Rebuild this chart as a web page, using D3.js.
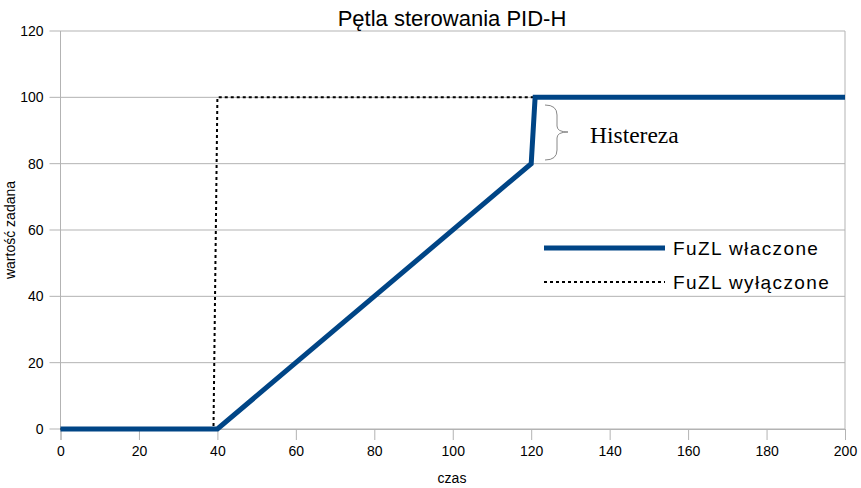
<!DOCTYPE html>
<html>
<head>
<meta charset="utf-8">
<script src="https://cdn.jsdelivr.net/npm/d3@7"></script>
<style>
  body { margin: 0; background: #fff; }
  text { font-family: "Liberation Sans", Arial, sans-serif; fill: #000; }
</style>
</head>
<body>
<div id="chart"></div>
<script>
// Chart data
var xTicks = [0, 20, 40, 60, 80, 100, 120, 140, 160, 180, 200];
var yTicks = [0, 20, 40, 60, 80, 100, 120];
var onX = [0, 40, 120, 121, 200];
var onY = [0, 0, 80, 100, 100];
var offX = [0, 39, 40, 200];
var offY = [0, 0, 100, 100];
var seriesNames = ["FuZL właczone", "FuZL wyłączone"];

var svg__Width = 861, svg__Height = 488;
var margin = { top: 31, right: 16, bottom: 59, left: 60.5 };
var chart__Width = svg__Width - margin.left - margin.right;
var chart__Height = svg__Height - margin.top - margin.bottom;

var svg = d3.select("#chart").append("svg")
  .attr("width", svg__Width)
  .attr("height", svg__Height);

var g = svg.append("g")
  .attr("transform", `translate(${margin.left}, ${margin.top})`);

var x = d3.scaleLinear().domain([0, 200]).range([0, chart__Width]);
var y = d3.scaleLinear().domain([0, 120]).range([chart__Height, 0]);

// horizontal gridlines
g.selectAll(".grid").data(yTicks).enter().append("line")
  .attr("x1", -11).attr("x2", chart__Width)
  .attr("y1", d => y(d)).attr("y2", d => y(d))
  .attr("stroke", "#b3b3b3").attr("stroke-width", 1);

// left and right borders
g.append("line").attr("x1", 0).attr("x2", 0).attr("y1", 0).attr("y2", chart__Height)
  .attr("stroke", "#b3b3b3");
g.append("line").attr("x1", chart__Width).attr("x2", chart__Width).attr("y1", 0).attr("y2", chart__Height)
  .attr("stroke", "#b3b3b3");

// x axis
var xAxis = g.append("g")
  .attr("transform", `translate(0, ${chart__Height})`)
  .call(d3.axisBottom(x).tickValues(xTicks).tickSize(11).tickPadding(6));
xAxis.select(".domain").attr("stroke", "#b3b3b3");
xAxis.selectAll(".tick line").attr("stroke", "#b3b3b3");
xAxis.selectAll("text").style("font-size", "14px").attr("fill", "#000");

// y axis labels
g.selectAll(".ylab").data(yTicks).enter().append("text")
  .attr("x", -17).attr("y", d => y(d)).attr("dy", "0.35em")
  .attr("text-anchor", "end").style("font-size", "14px")
  .text(d => d);

// series
var line = d3.line().x(d => x(d[0])).y(d => y(d[1]));
var offData = offX.map((v, i) => [v, offY[i]]);
var onData = onX.map((v, i) => [v, onY[i]]);

g.append("path").datum(offData).attr("d", line)
  .attr("fill", "none").attr("stroke", "#000").attr("stroke-width", 2)
  .attr("stroke-dasharray", "3,3");
g.append("path").datum(onData).attr("d", line)
  .attr("fill", "none").attr("stroke", "#004586").attr("stroke-width", 5)
  .attr("stroke-linejoin", "miter");

// title and axis titles
svg.append("text").attr("x", 452).attr("y", 26).attr("text-anchor", "middle")
  .style("font-size", "22px").text("Pętla sterowania PID-H");
svg.append("text").attr("x", 452).attr("y", 483).attr("text-anchor", "middle")
  .style("font-size", "14px").text("czas");
svg.append("text").attr("transform", "translate(15, 230) rotate(-90)")
  .attr("text-anchor", "middle").style("font-size", "14px").text("wartość zadana");

// legend
var legend = svg.append("g").attr("transform", "translate(544, 248)");
legend.append("line").attr("x1", 0).attr("x2", 121).attr("y1", 0).attr("y2", 0)
  .attr("stroke", "#004586").attr("stroke-width", 5);
legend.append("line").attr("x1", 0).attr("x2", 121).attr("y1", 34).attr("y2", 34)
  .attr("stroke", "#000").attr("stroke-width", 2).attr("stroke-dasharray", "3,3");
legend.selectAll(".ltxt").data(seriesNames).enter().append("text")
  .attr("x", 129).attr("y", (d, i) => i * 34).attr("dy", "0.35em")
  .style("font-size", "19px").style("letter-spacing", "1.4px").text(d => d);

// hysteresis brace annotation
svg.append("path")
  .attr("d", "M545,105 Q557,105 557,115 L557,126 Q557,132 568,132 Q557,132 557,138 L557,150 Q557,160 545,160")
  .attr("fill", "none").attr("stroke", "#888").attr("stroke-width", 1);
svg.append("text").attr("x", 590).attr("y", 143)
  .style("font-family", "'Liberation Serif', 'Times New Roman', serif")
  .style("font-size", "23.5px").text("Histereza");
</script>
</body>
</html>
